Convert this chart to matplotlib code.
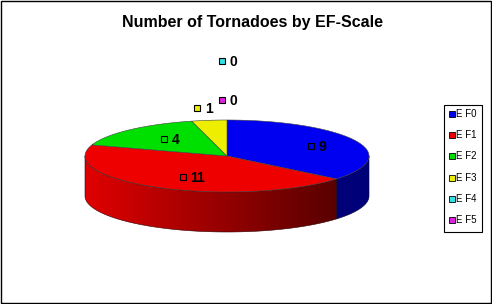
import numpy as np
import matplotlib
matplotlib.use('Agg')
import matplotlib.pyplot as plt
from matplotlib.patches import Polygon, Rectangle
from matplotlib.colors import LinearSegmentedColormap

plt.rcParams['font.family'] = ['Liberation Sans', 'DejaVu Sans']

title = 'Number of Tornadoes by EF-Scale'
categories = ['E F0', 'E F1', 'E F2', 'E F3', 'E F4', 'E F5']
counts = [9, 11, 4, 1, 0, 0]
top_colors = ['#0000f0', '#ee0000', '#00e000', '#eeee00', '#33e0e8', '#e020e0']
side_colors = ['#000078', ('#e00000', '#580000'), '#009000', '#909000', '#208888', '#881088']

# pie geometry in pixels
cx, cy = 227.0, 156.0
a, b = 142.0, 36.0
depth = 40.0

def ell(theta, r=1.0, dy=0.0):
    # theta in degrees, clockwise from 12 o'clock
    t = np.radians(theta)
    return cx + r * a * np.sin(t), cy - r * b * np.cos(t) + dy

fig = plt.figure(figsize=(4.92, 3.04), dpi=100)
ax = fig.add_axes([0, 0, 1, 1])
ax.set_xlim(0, 492)
ax.set_ylim(304, 0)
ax.axis('off')

total = float(sum(counts))
bounds = np.concatenate([[0], np.cumsum(counts) / total * 360.0])

# side walls (front half: 90..270 deg)
for i in range(len(counts)):
    t0, t1 = bounds[i], bounds[i + 1]
    lo, hi = max(t0, 90.0), min(t1, 270.0)
    if hi <= lo:
        continue
    th = np.linspace(lo, hi, 80)
    xt, yt = ell(th)
    xb, yb = ell(th[::-1], dy=depth)
    pts = np.column_stack([np.concatenate([xt, xb]), np.concatenate([yt, yb])])
    sc = side_colors[i]
    if isinstance(sc, tuple):
        poly = Polygon(pts, closed=True, facecolor='none', edgecolor='none')
        ax.add_patch(poly)
        cmap = LinearSegmentedColormap.from_list('side', list(sc))
        grad = np.linspace(0, 1, 256).reshape(1, -1)
        im = ax.imshow(grad, cmap=cmap, aspect='auto',
                       extent=(pts[:, 0].min(), pts[:, 0].max(), pts[:, 1].max(), pts[:, 1].min()))
        im.set_clip_path(poly)
        ax.add_patch(Polygon(pts, closed=True, facecolor='none', edgecolor='#300000', lw=0.4))
    else:
        ax.add_patch(Polygon(pts, closed=True, facecolor=sc, edgecolor='#000030', lw=0.4))

ax.set_xlim(0, 492)
ax.set_ylim(304, 0)

# top face
for i in range(len(counts)):
    t0, t1 = bounds[i], bounds[i + 1]
    if t1 <= t0:
        continue
    th = np.linspace(t0, t1, 120)
    xt, yt = ell(th)
    pts = np.column_stack([np.concatenate([[cx], xt]), np.concatenate([[cy], yt])])
    ax.add_patch(Polygon(pts, closed=True, facecolor=top_colors[i], edgecolor='#404040', lw=0.4))

# data labels with legend keys
zero_idx = [i for i in range(len(counts)) if counts[i] == 0]
for i in range(len(counts)):
    mid = (bounds[i] + bounds[i + 1]) / 2.0
    share = counts[i] / total
    if counts[i] == 0:
        # last zero slice sits closest to the pie
        k = len(zero_idx) - 1 - zero_idx.index(i)
        lx, ly = ell(mid, 1.55 + 1.1 * k)
        lx -= 5
    elif share < 0.05:
        lx, ly = ell(mid, 1.35)
        lx -= 6
    else:
        lx, ly = ell(mid, 0.65)
    ax.add_patch(Rectangle((lx - 3, ly - 3), 6, 6, facecolor=top_colors[i],
                           edgecolor='black', lw=0.8, zorder=5))
    ax.text(lx + 8, ly + 1, str(counts[i]), fontsize=10, fontweight='bold',
            ha='left', va='center', zorder=5)

ax.text(252, 23, title, fontsize=11.5, fontweight='bold', ha='center', va='center')

# legend
ax.add_patch(Rectangle((444, 105), 38, 127, facecolor='white', edgecolor='black', lw=0.8))
for i, name in enumerate(categories):
    y = 114 + i * 21.2
    ax.add_patch(Rectangle((449, y - 3), 6, 6, facecolor=top_colors[i], edgecolor='black', lw=0.6))
    ax.text(456, y, name, fontsize=7, ha='left', va='center')

# chart border
ax.add_patch(Rectangle((0.5, 0.5), 490.5, 302.5, facecolor='none', edgecolor='black', lw=1))

fig.savefig('out.png', dpi=100)
